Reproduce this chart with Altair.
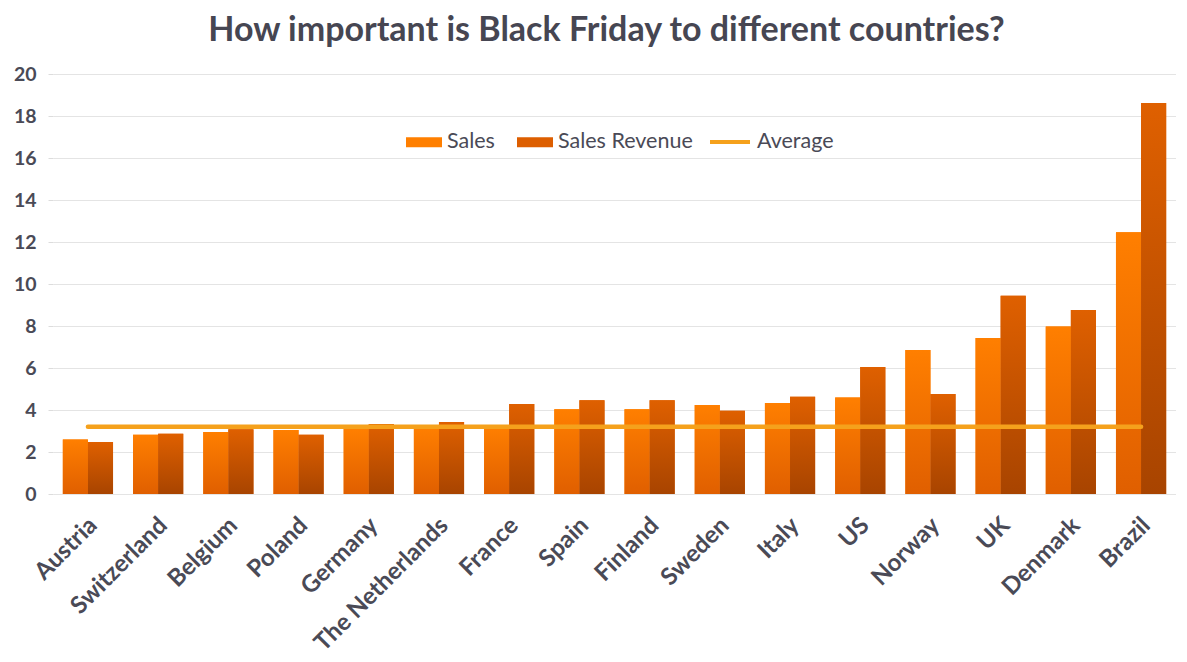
import altair as alt
import pandas as pd

countries = ["Austria", "Switzerland", "Belgium", "Poland", "Germany", "The Netherlands",
             "France", "Spain", "Finland", "Sweden", "Italy", "US", "Norway", "UK",
             "Denmark", "Brazil"]
sales = [2.6, 2.82, 2.95, 3.05, 3.1, 3.15, 3.2, 4.03, 4.03, 4.24, 4.33, 4.59, 6.86, 7.43, 7.98, 12.46]
revenue = [2.48, 2.87, 3.08, 2.82, 3.33, 3.43, 4.29, 4.46, 4.46, 3.97, 4.63, 6.05, 4.76, 9.44, 8.76, 18.62]
average = 3.2
series = ["Sales", "Sales Revenue"]
y_ticks = list(range(0, 21, 2))

rows = []
for c, s, r in zip(countries, sales, revenue):
    rows.append({"country": c, "series": series[0], "value": s})
    rows.append({"country": c, "series": series[1], "value": r})
bars_df = pd.DataFrame(rows)
avg_df = pd.DataFrame({"country": countries, "value": [average] * len(countries), "name": ["Average"] * len(countries)})

FONT = "Lato"
TXT = "#4a4a56"

x_enc = alt.X("country:N", sort=countries,
              scale=alt.Scale(paddingInner=0.285, paddingOuter=0.14),
              axis=alt.Axis(title=None, labelAngle=-45, labelFontSize=24, labelFontWeight="bold",
                            labelColor=TXT, labelFont=FONT, ticks=False, domain=False,
                            labelPadding=19, labelOffset=-3))
y_enc = alt.Y("value:Q", scale=alt.Scale(domain=[0, 20], nice=False),
              axis=alt.Axis(title=None, values=y_ticks, labelFontSize=19.5, labelFontWeight="bold",
                            labelColor=TXT, labelFont=FONT, grid=True, gridColor="#e4e4e4",
                            tickColor="#dcdcdc", tickSize=5, domain=False, labelPadding=12))
xoff = alt.XOffset("series:N", sort=series, scale=alt.Scale(domain=series))

rect_path = "M-1,-0.28L1,-0.28L1,0.28L-1,0.28Z"

base = alt.Chart(bars_df).mark_bar().encode(
    x=x_enc, y=y_enc, xOffset=xoff,
    color=alt.Color("series:N", sort=series,
                    scale=alt.Scale(domain=series, range=["#FF7F00", "#DD5E00"]),
                    legend=alt.Legend(title=None, orient="none", direction="horizontal",
                                      legendX=353, legendY=50, symbolType=rect_path,
                                      symbolSize=1296, symbolStrokeWidth=0,
                                      labelFontSize=21.5, labelColor=TXT, labelFont=FONT,
                                      labelOffset=5, columnPadding=22)),
)

def grad(top, bottom):
    return alt.Gradient(gradient="linear",
                        stops=[alt.GradientStop(color=top, offset=0),
                               alt.GradientStop(color=bottom, offset=1)],
                        x1=0, x2=0, y1=0, y2=1)

sales_layer = alt.Chart(bars_df).transform_filter(alt.datum.series == series[0]).mark_bar(
    fill=grad("#FF7F00", "#E05F00")).encode(x=x_enc, y=y_enc, xOffset=xoff)
rev_layer = alt.Chart(bars_df).transform_filter(alt.datum.series == series[1]).mark_bar(
    fill=grad("#DF6000", "#A84400")).encode(x=x_enc, y=y_enc, xOffset=xoff)

avg_line = alt.Chart(avg_df).mark_line(strokeWidth=4.5, strokeCap="round").encode(
    x=alt.X("country:N", sort=countries),
    y=alt.Y("value:Q"),
    stroke=alt.Stroke("name:N", scale=alt.Scale(domain=["Average"], range=["#F5A11C"]),
                      legend=alt.Legend(title=None, orient="none", legendX=655, legendY=46,
                                        symbolType="stroke", symbolSize=1600,
                                        symbolStrokeWidth=4, labelFontSize=21.5,
                                        labelColor=TXT, labelFont=FONT, labelOffset=5)),
)

chart = alt.layer(base, sales_layer, rev_layer, avg_line).properties(
    width=1123, height=420,
    title=alt.Title("How important is Black Friday to different countries?",
                    fontSize=34, font=FONT, fontWeight="bold", color="#464652",
                    anchor="middle", offset=16, dx=-8),
    padding={"left": 5, "top": 6, "right": 0, "bottom": 5},
).resolve_scale(color="independent", stroke="independent").configure_view(stroke=None)

chart.save("out.html", embed_options={"renderer": "svg", "actions": False})
